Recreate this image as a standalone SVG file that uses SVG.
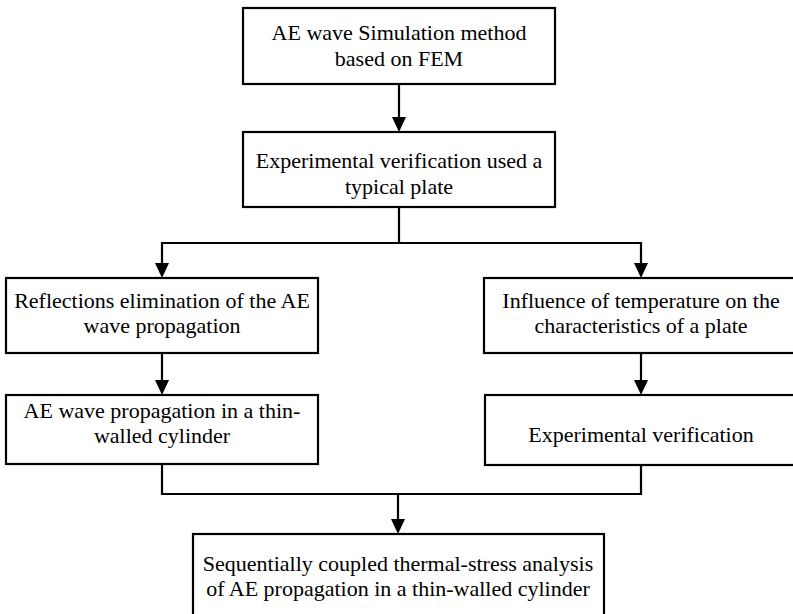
<svg xmlns="http://www.w3.org/2000/svg" width="793" height="614" viewBox="0 0 793 614">
<style>
.box{fill:#fff;stroke:#000;stroke-width:2.2}
.t{font-family:"Liberation Serif","Times New Roman",serif;font-size:22px;fill:#000;text-anchor:middle}
.c{fill:none;stroke:#000;stroke-width:2.2}
</style>
<defs>
<marker id="ah" markerUnits="userSpaceOnUse" markerWidth="14" markerHeight="16" refX="7" refY="15" orient="auto-start-reverse" viewBox="0 0 14 16">
<path d="M0,0 L14,0 L7,15 Z" fill="#000" transform="rotate(0)"/>
</marker>
</defs>
<rect width="793" height="614" fill="#fff"/>
<g id="connectors">
<path class="c" d="M399,84 V118"/>
<polygon points="392,117 406,117 399,132"/>
<path class="c" d="M399,207 V243 M162,243 H641 M162,242 V264 M641,242 V264"/>
<polygon points="155,263 169,263 162,278"/>
<polygon points="634,263 648,263 641,278"/>
<path class="c" d="M162,353 V381 M641,353 V381"/>
<polygon points="155,380 169,380 162,395"/>
<polygon points="634,380 648,380 641,395"/>
<path class="c" d="M162,465 V494 H641 V465 M398,494 V520"/>
<polygon points="391,519 405,519 398,534"/>
</g>
<g id="n1">
<rect class="box" x="243" y="8" width="312" height="76"/>
<text class="t" x="399" y="40">AE wave Simulation method</text>
<text class="t" x="399" y="66">based on FEM</text>
</g>
<g id="n2">
<rect class="box" x="243" y="132" width="312" height="75"/>
<text class="t" x="399" y="168">Experimental verification used a</text>
<text class="t" x="399" y="194">typical plate</text>
</g>
<g id="n3">
<rect class="box" x="6" y="278" width="312" height="75"/>
<text class="t" x="162" y="308">Reflections elimination of the AE</text>
<text class="t" x="162" y="333">wave propagation</text>
</g>
<g id="n4">
<rect class="box" x="484" y="278" width="314" height="75"/>
<text class="t" x="641" y="308">Influence of temperature on the</text>
<text class="t" x="641" y="333">characteristics of a plate</text>
</g>
<g id="n5">
<rect class="box" x="6" y="395" width="312" height="69"/>
<text class="t" x="162" y="418">AE wave propagation in a thin-</text>
<text class="t" x="162" y="443">walled cylinder</text>
</g>
<g id="n6">
<rect class="box" x="485" y="395" width="313" height="70"/>
<text class="t" x="641" y="442">Experimental verification</text>
</g>
<g id="n7">
<rect class="box" x="193" y="534" width="411" height="90"/>
<text class="t" x="398" y="571">Sequentially coupled thermal-stress analysis</text>
<text class="t" x="398" y="596">of AE propagation in a thin-walled cylinder</text>
</g>
</svg>
